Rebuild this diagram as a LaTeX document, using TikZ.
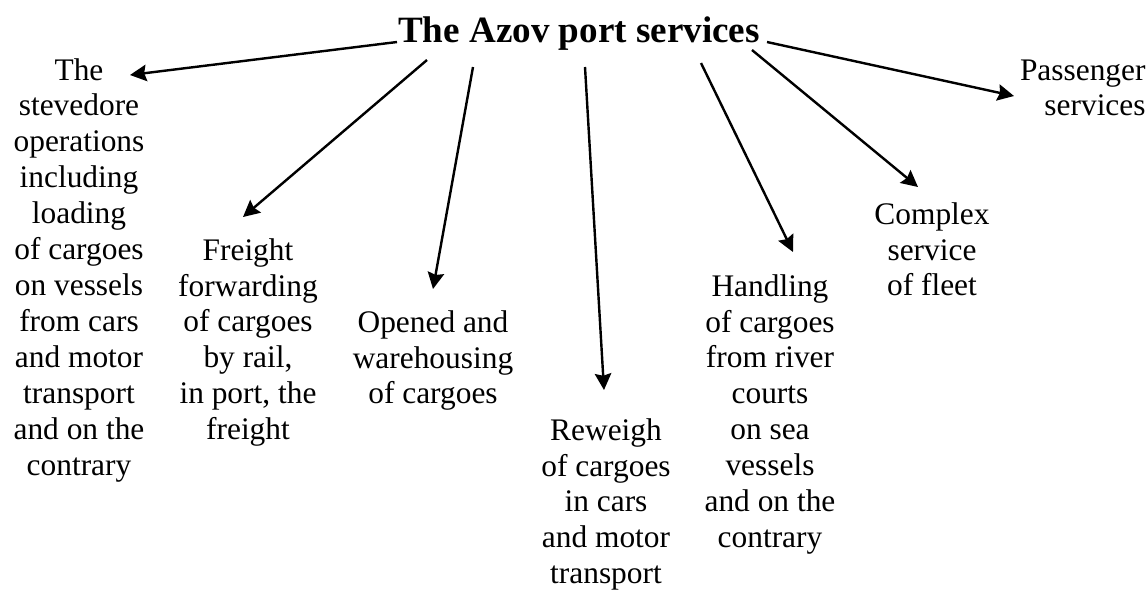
\documentclass[tikz,border=0pt]{standalone}
\usepackage{fontspec}
\setmainfont{Liberation Serif}
\usetikzlibrary{arrows.meta}
\newcommand{\svcfont}{\fontsize{14.3pt}{16.39pt}\selectfont}
\newcommand{\hdfont}{\fontsize{16.9pt}{19pt}\selectfont\bfseries}
\newcommand{\blocktext}[2][c]{\begin{tabular}[t]{@{}#1@{}}#2\end{tabular}}

\begin{document}
\begin{tikzpicture}[x=0.016cm,y=-0.016cm,
	svc/.style={anchor=base,inner sep=0pt,font=\svcfont},
	ln/.style={line width=1.1pt,-{Stealth[length=7.5pt,width=7.5pt,inset=1pt]}}]
	\useasboundingbox (0,0) rectangle (1147,597);
	\node[anchor=base,inner sep=0pt,font=\hdfont] (title) at (579,42) {The Azov port services};
	\node[svc] (stev) at (79,80) {\blocktext{The\\stevedore\\operations\\including\\loading\\of cargoes\\on vessels\\from cars\\and motor\\transport\\and on the\\contrary}};
	\node[svc] (fwd) at (248,260) {\blocktext{Freight\\forwarding\\of cargoes\\by rail,\\in port, the\\freight}};
	\node[svc] (ware) at (433,332) {\blocktext{Opened and\\warehousing\\of cargoes}};
	\node[svc] (weigh) at (606,440) {\blocktext{Reweigh\\of cargoes\\in cars\\and motor\\transport}};
	\node[svc] (river) at (770,296) {\blocktext{Handling\\of cargoes\\from river\\courts\\on sea\\vessels\\and on the\\contrary}};
	\node[svc] (fleet) at (932,224) {\blocktext{Complex\\service\\of fleet}};
	\node[svc,anchor=base east] (pass) at (1146,80) {\blocktext[r]{Passenger\\services}};
	% arrow ends
	\coordinate (o1) at (397,42);
	\coordinate (e1) at (130,75);
	\coordinate (o2) at (427,60);
	\coordinate (e2) at (243,217);
	\coordinate (o3) at (473,67);
	\coordinate (e3) at (433,289);
	\coordinate (o4) at (585,67);
	\coordinate (e4) at (604,390);
	\coordinate (o5) at (701,63);
	\coordinate (e5) at (793,252);
	\coordinate (o6) at (752,50);
	\coordinate (e6) at (918,187);
	\coordinate (o7) at (767,42);
	\coordinate (e7) at (1014,96);
	\path
	(o1) edge[ln] (e1)
	(o2) edge[ln] (e2)
	(o3) edge[ln] (e3)
	(o4) edge[ln] (e4)
	(o5) edge[ln] (e5)
	(o6) edge[ln] (e6)
	(o7) edge[ln] (e7)
	;
\end{tikzpicture}
\end{document}
